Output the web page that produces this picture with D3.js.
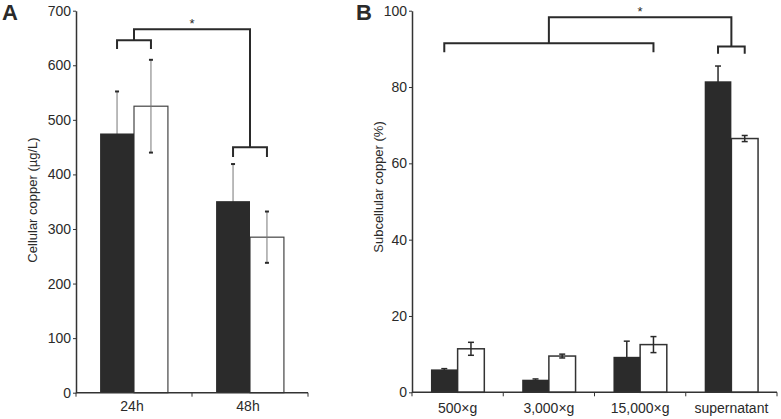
<!DOCTYPE html>
<html>
<head>
<meta charset="utf-8">
<script src="https://cdn.jsdelivr.net/npm/d3@7"></script>
<style>
  body { margin: 0; background: #fff; }
  svg { display: block; }
  text { font-family: "Liberation Sans", Arial, sans-serif; fill: #2a2a2a; }
</style>
</head>
<body>
<svg id="chart" width="781" height="419"></svg>
<script>
// ---------- Panel A data ----------
const catsA = ["24h", "48h"];
const blackA = [475, 351];
const blackErrA = [77, 68];
const whiteA = [525, 285];
const whiteErrA = [85, 47];
const ticksA = [0, 100, 200, 300, 400, 500, 600, 700];
// significance brackets (values in data units)
const bracketLevelA = [646, 450];
const bracketLegA = [630, 432];
const bracketTopA = 666;

// ---------- Panel B data ----------
const catsB = ["500×g", "3,000×g", "15,000×g", "supernatant"];
const blackB = [6.0, 3.3, 9.3, 81.5];
const blackErrB = [0.2, 0.2, 4.1, 4.0];
const whiteB = [11.4, 9.5, 12.5, 66.5];
const whiteErrB = [1.7, 0.5, 2.1, 0.8];
const ticksB = [0, 20, 40, 60, 80, 100];
const bracketLevelB = [91.5, 90.6];
const bracketLegB = [89.1, 88.7];
const bracketTopB = 98.3;

const svg = d3.select("#chart");
const series = ["black", "white"];

function panel(opts) {
  const g = svg.append("g");
  const x = d3.scaleBand().domain(opts.cats).range(opts.xr).paddingInner(0).paddingOuter(0);
  const x1 = d3.scaleBand().domain(series).range([0, x.bandwidth()]).paddingInner(0).paddingOuter(0.71);
  const y = d3.scaleLinear().domain([0, opts.ymax]).range(opts.yr);

  const data = opts.cats.map((c, i) => ({
    c,
    vals: [
      { s: "black", v: opts.black[i], e: opts.blackErr[i] },
      { s: "white", v: opts.white[i], e: opts.whiteErr[i] }
    ]
  }));
  const flat = data.flatMap(d => d.vals.map(v => Object.assign({ c: d.c }, v)));
  const cx = d => x(d.c) + x1(d.s) + x1.bandwidth() / 2;

  // white bars
  g.selectAll(".wbar").data(flat.filter(d => d.s === "white")).join("rect")
    .attr("x", d => x(d.c) + x1(d.s))
    .attr("y", d => y(d.v))
    .attr("width", x1.bandwidth())
    .attr("height", d => y(0) - y(d.v))
    .attr("fill", "#fff")
    .attr("stroke", opts.whiteStroke)
    .attr("stroke-width", opts.whiteStrokeW);

  // error bars
  const eb = g.selectAll(".eb").data(flat).join("g");
  eb.append("line")
    .attr("x1", cx).attr("x2", cx)
    .attr("y1", d => y(d.v + d.e)).attr("y2", d => y(d.v - d.e))
    .attr("stroke", opts.errColor).attr("stroke-width", opts.errW);
  eb.append("line")
    .attr("x1", d => cx(d) - opts.cap).attr("x2", d => cx(d) + opts.cap)
    .attr("y1", d => y(d.v + d.e)).attr("y2", d => y(d.v + d.e))
    .attr("stroke", "#2a2a2a").attr("stroke-width", opts.capW);
  eb.filter(d => d.s === "white").append("line")
    .attr("x1", d => cx(d) - opts.cap).attr("x2", d => cx(d) + opts.cap)
    .attr("y1", d => y(d.v - d.e)).attr("y2", d => y(d.v - d.e))
    .attr("stroke", "#2a2a2a").attr("stroke-width", opts.capW);

  // black bars
  g.selectAll(".bbar").data(flat.filter(d => d.s === "black")).join("rect")
    .attr("x", d => x(d.c) + x1(d.s))
    .attr("y", d => y(d.v))
    .attr("width", x1.bandwidth())
    .attr("height", d => y(0) - y(d.v))
    .attr("fill", "#2b2b2b");

  // y axis
  const ya = d3.axisLeft(y).tickValues(opts.ticks).tickSize(3).tickPadding(2).tickSizeOuter(0);
  const yg = g.append("g").attr("transform", `translate(${opts.xr[0]},0)`).call(ya);
  yg.select(".domain").attr("stroke", "#333").attr("stroke-width", 1.5);
  yg.selectAll(".tick line").attr("stroke", "#333");
  yg.selectAll(".tick text").style("font-family", '"Liberation Sans", Arial, sans-serif')
    .style("font-size", "14px").attr("fill", "#2a2a2a");

  // x axis
  g.append("line").attr("x1", opts.xr[0]).attr("x2", opts.xr[1])
    .attr("y1", y(0)).attr("y2", y(0)).attr("stroke", "#333").attr("stroke-width", 1.5);
  const bounds = opts.cats.map(c => x(c)).concat([x(opts.cats[opts.cats.length - 1]) + x.bandwidth()]);
  g.selectAll(".xt").data(bounds).join("line")
    .attr("x1", d => d).attr("x2", d => d)
    .attr("y1", y(0)).attr("y2", y(0) + 4)
    .attr("stroke", "#333").attr("stroke-width", 1);
  g.selectAll(".xl").data(opts.cats).join("text")
    .attr("x", c => x(c) + x.bandwidth() / 2 - opts.xlabShift)
    .attr("y", opts.xlabY)
    .attr("text-anchor", "middle")
    .style("font-size", "14px")
    .text(c => c);

  // axis title
  g.append("text")
    .attr("transform", `translate(${opts.titleX},${opts.titleY}) rotate(-90)`)
    .attr("text-anchor", "middle")
    .attr("dominant-baseline", "central")
    .style("font-size", "13px")
    .text(opts.title);

  // panel letter
  g.append("text").attr("x", opts.letterX).attr("y", 20)
    .style("font-size", "22px").style("font-weight", "bold").attr("fill", "#222")
    .text(opts.letter);

  // brackets
  const bs = "#2a2a2a";
  const mids = [];
  opts.brackets.forEach((b, i) => {
    const xa = x(b.from) + x1("black") + x1.bandwidth() / 2;
    const xb = x(b.to) + x1("white") + x1.bandwidth() / 2;
    const lv = y(opts.bLevel[i]), lg = y(opts.bLeg[i]);
    g.append("path")
      .attr("d", `M${xa},${lg}V${lv}H${xb}V${lg}`)
      .attr("fill", "none").attr("stroke", bs).attr("stroke-width", 2);
    mids.push({ x: (xa + xb) / 2, y: lv });
  });
  const yt = y(opts.bTop);
  g.append("path")
    .attr("d", `M${mids[0].x},${mids[0].y}V${yt}H${mids[1].x}V${mids[1].y}`)
    .attr("fill", "none").attr("stroke", bs).attr("stroke-width", 2);
  g.append("text")
    .attr("x", (mids[0].x + mids[1].x) / 2).attr("y", yt - 1)
    .attr("text-anchor", "middle")
    .style("font-size", "13px")
    .text("*");
}

panel({
  cats: catsA, black: blackA, blackErr: blackErrA, white: whiteA, whiteErr: whiteErrA,
  ticks: ticksA, ymax: 700, xr: [76, 308], yr: [392.7, 10.7],
  whiteStroke: "#444", whiteStrokeW: 1.2, errColor: "#777", errW: 1, cap: 2, capW: 2,
  xlabY: 411, xlabShift: 2, title: "Cellular copper (µg/L)", titleX: 32.5, titleY: 200,
  letter: "A", letterX: 2,
  brackets: [{ from: "24h", to: "24h" }, { from: "48h", to: "48h" }],
  bLevel: bracketLevelA, bLeg: bracketLegA, bTop: bracketTopA
});

panel({
  cats: catsB, black: blackB, blackErr: blackErrB, white: whiteB, whiteErr: whiteErrB,
  ticks: ticksB, ymax: 100, xr: [412, 777], yr: [392.3, 10.7],
  whiteStroke: "#333", whiteStrokeW: 1.5, errColor: "#2a2a2a", errW: 1.5, cap: 3, capW: 1.5,
  xlabY: 413, xlabShift: 0, title: "Subcellular copper (%)", titleX: 378, titleY: 187,
  letter: "B", letterX: 356,
  brackets: [{ from: "500×g", to: "15,000×g" }, { from: "supernatant", to: "supernatant" }],
  bLevel: bracketLevelB, bLeg: bracketLegB, bTop: bracketTopB
});
</script>
</body>
</html>
